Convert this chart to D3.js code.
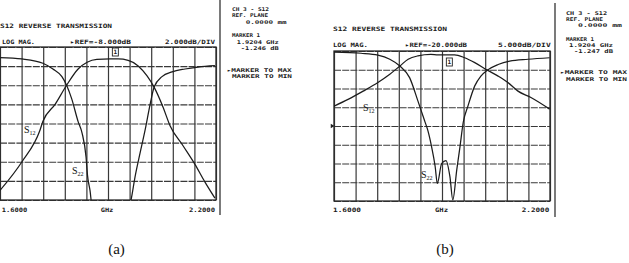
<!DOCTYPE html>
<html>
<head>
<meta charset="utf-8">
<script src="https://d3js.org/d3.v7.min.js"></script>
<style>
body { margin: 0; background: #fff; }
/* analyzer print-out text: tiny bold block letters */
.ana { font-family: "DejaVu Sans Mono", monospace; font-weight: bold; font-size: 6px; fill: #1a1a1a; }
.side { font-size: 5.2px; }
.grid line { stroke: #383838; stroke-width: 1.2; }
.grid path { display: none; }
.hgrid line { stroke-dasharray: 7,1.2; }
.trace { fill: none; stroke: #1c1c1c; stroke-width: 1.25; }
.slabel { font-family: "Liberation Serif", "Times New Roman", serif; fill: #111; }
.cap { font-family: "Liberation Serif", "Times New Roman", serif; font-size: 15px; fill: #111; }
</style>
</head>
<body>
<script>
// ---- data (GHz, dB) ----
var startGHz = 1.6, stopGHz = 2.2, divisions = 10;
var markerGHz = 1.9204;

// panel (a): 2 dB/div, ref -8 dB
var s12FreqA = [1.600, 1.661, 1.711, 1.719, 1.753, 1.785, 1.817, 1.842, 1.869, 1.906, 1.928, 1.956, 1.983, 2.008, 2.028, 2.053, 2.072, 2.108, 2.142, 2.169, 2.197];
var s12DbA   = [-15.0, -12.0, -8.7, -7.8, -6.0, -4.0, -2.3, -1.6, -1.3, -1.25, -1.25, -1.4, -1.95, -3.0, -4.2, -6.3, -8.2, -10.3, -12.3, -14.1, -15.8];
var s22FreqA = [1.600, 1.661, 1.719, 1.747, 1.772, 1.785, 1.799, 1.817, 1.828, 1.839, 1.843, 1.850, 1.856, 1.960, 1.964, 1.975, 1.989, 2.003, 2.017, 2.028, 2.050, 2.078, 2.114, 2.150, 2.197];
var s22DbA   = [-1.1, -1.25, -1.7, -2.3, -3.1, -4.0, -5.4, -7.8, -9.0, -11.5, -13.4, -15.0, -16.6, -16.6, -16.0, -13.6, -11.1, -8.7, -6.0, -4.2, -3.1, -2.6, -2.3, -2.1, -1.95];

// panel (b): 5 dB/div, ref -20 dB
var s12FreqB = [1.600, 1.639, 1.681, 1.722, 1.755, 1.783, 1.806, 1.833, 1.869, 1.889, 1.935, 1.963, 1.991, 2.026, 2.056, 2.083, 2.111, 2.147, 2.199];
var s12DbB   = [-14.7, -12.9, -10.7, -8.4, -6.2, -4.0, -2.2, -1.3, -0.9, -1.0, -1.0, -1.8, -3.1, -5.1, -6.7, -8.4, -10.7, -12.4, -15.5];
var s22FreqB = [1.600, 1.675, 1.722, 1.755, 1.783, 1.810, 1.833, 1.852, 1.861, 1.871, 1.881, 1.887, 1.899, 1.911, 1.922, 1.930, 1.941, 1.950, 1.959, 1.972, 1.991, 2.008, 2.026, 2.056, 2.088, 2.139, 2.199];
var s22DbB   = [-0.27, -0.6, -1.1, -2.2, -4.0, -7.1, -13.3, -18.7, -21.3, -25.5, -30.8, -35.3, -30.0, -29.2, -33.5, -39.7, -31.7, -25.5, -19.0, -14.7, -9.3, -6.7, -5.1, -3.6, -2.7, -2.2, -1.8];

var sideTextA = ["CH 3 - S12", "REF. PLANE", "0.0000 mm", "MARKER 1", "1.9204 GHz", "-1.246 dB", "\u25B8MARKER TO MAX", "MARKER TO MIN"];
var sideTextB = ["CH 3 - S12", "REF. PLANE", "0.0000 mm", "MARKER 1", "1.9204 GHz", "-1.247 dB", "\u25B8MARKER TO MAX", "MARKER TO MIN"];
var headA = ["S12 REVERSE TRANSMISSION", "LOG MAG.", "\u25B8REF=-8.000dB", "2.000dB/DIV"];
var headB = ["S12 REVERSE TRANSMISSION", "LOG MAG.", "\u25B8REF=-20.000dB", "5.000dB/DIV"];
var axisText = ["1.6000", "GHz", "2.2000"];

var svg = d3.select("body").append("svg")
  .attr("width", 629).attr("height", 263);

function zip(f, v) { return f.map(function(d, i) { return [d, v[i]]; }); }

var panels = [
  { id: "a", left: 0, top: 47, right: 216, bottom: 200, dbTop: 0, dbDiv: 2,
    s12: zip(s12FreqA, s12DbA), s22: zip(s22FreqA, s22DbA), head: headA, side: sideTextA,
    // layout of the printed text  [x, baseline, width]
    headPos: [[0, 27.5, 112], [2, 44, 33], [70, 44, 61], [165, 44, 50]],
    sidePos: [[232, 11, 37], [232, 17, 36], [245.7, 23.5, 41], [232, 37, 28], [236.7, 43.5, 42], [240.7, 50, 38], [226.7, 71.5, 65], [232, 78, 60]],
    axisPos: [[1.7, 211.5, 25.6], [100.7, 211.5, 12.6], [189, 211.5, 26]],
    sep: [220, 0, 215], s12Lab: [24, 133], s22Lab: [72, 174], cap: [116.5, 254] },
  { id: "b", left: 334, top: 51, right: 550, bottom: 201, dbTop: 0, dbDiv: 5,
    s12: zip(s12FreqB, s12DbB), s22: zip(s22FreqB, s22DbB), head: headB, side: sideTextB,
    headPos: [[333, 31, 114], [333, 46.5, 35], [405, 46.5, 62], [498, 46.5, 52.7]],
    sidePos: [[566, 15, 41], [566, 21, 37], [578, 27, 44], [566, 41, 28], [569, 47, 44], [574, 53, 39], [560, 74, 67], [566, 81, 61]],
    axisPos: [[333, 212, 28], [435, 212, 13], [521.7, 212, 27.6]],
    sep: [555, 3, 217], s12Lab: [363, 111], s22Lab: [421, 178], cap: [445, 254] }
];

panels.forEach(function(p) {
  var g = svg.append("g");
  var w = p.right - p.left, h = p.bottom - p.top;
  var x = d3.scaleLinear().domain([startGHz, stopGHz]).range([p.left, p.right]);
  var y = d3.scaleLinear().domain([p.dbTop, p.dbTop - 8 * p.dbDiv]).range([p.top, p.bottom]);

  var fTicks = d3.range(divisions + 1).map(function(i) { return startGHz + i * (stopGHz - startGHz) / divisions; });
  var dTicks = d3.range(9).map(function(i) { return p.dbTop - i * p.dbDiv; });

  g.append("g").attr("class", "grid")
    .attr("transform", "translate(0," + p.bottom + ")")
    .call(d3.axisBottom(x).tickValues(fTicks).tickSize(-h).tickFormat(""));
  g.append("g").attr("class", "grid hgrid")
    .attr("transform", "translate(" + p.left + ",0)")
    .call(d3.axisLeft(y).tickValues(dTicks).tickSize(-w).tickFormat(""));
  g.append("rect").attr("x", p.left).attr("y", p.top).attr("width", w).attr("height", h)
    .attr("fill", "none").attr("stroke", "#2a2a2a").attr("stroke-width", 1.3);

  g.append("clipPath").attr("id", "clip" + p.id)
    .append("rect").attr("x", p.left).attr("y", p.top - 2).attr("width", w).attr("height", h + 2);

  var line = d3.line().x(function(d) { return x(d[0]); }).y(function(d) { return y(d[1]); })
    .curve(d3.curveMonotoneX);
  [p.s12, p.s22].forEach(function(s) {
    g.append("path").attr("class", "trace").attr("clip-path", "url(#clip" + p.id + ")")
      .attr("d", line(s));
  });

  // marker 1 box
  var mx = x(markerGHz), my = p.top + (p.id === "a" ? 1 : 7);
  g.append("rect").attr("x", mx - 3).attr("y", my).attr("width", 6).attr("height", 8)
    .attr("fill", "#fff").attr("stroke", "#222").attr("stroke-width", 0.9);
  g.append("text").attr("class", "ana").attr("x", mx).attr("y", my + 6.3)
    .attr("text-anchor", "middle").style("font-size", "6px").text("1");

  // reference level pointer
  if (p.id === "b") {
    g.append("path").attr("d", d3.symbol().type(d3.symbolTriangle).size(8)())
      .attr("transform", "translate(" + (p.left - 2) + "," + y(-20) + ") rotate(90)").attr("fill", "#222");
  }

  // printed annotation text
  function put(txt, pos, cls) {
    g.append("text").attr("class", cls).attr("x", pos[0]).attr("y", pos[1])
      .attr("textLength", pos[2]).attr("lengthAdjust", "spacingAndGlyphs").text(txt);
  }
  p.head.forEach(function(t, i) { put(t, p.headPos[i], "ana"); });
  p.side.forEach(function(t, i) { put(t, p.sidePos[i], "ana side"); });
  axisText.forEach(function(t, i) { put(t, p.axisPos[i], "ana"); });

  g.append("line").attr("x1", p.sep[0]).attr("x2", p.sep[0]).attr("y1", p.sep[1]).attr("y2", p.sep[2])
    .attr("stroke", "#222").attr("stroke-width", 1.2);

  // handwritten-style trace labels
  [["12", p.s12Lab], ["22", p.s22Lab]].forEach(function(l) {
    var t = g.append("text").attr("class", "slabel").attr("x", l[1][0]).attr("y", l[1][1]).style("font-size", "10px");
    t.append("tspan").text("S");
    t.append("tspan").attr("dy", 2).style("font-size", "6px").text(l[0]);
  });

  svg.append("text").attr("class", "cap").attr("x", p.cap[0]).attr("y", p.cap[1])
    .attr("text-anchor", "middle").text("(" + p.id + ")");
});
</script>
</body>
</html>
